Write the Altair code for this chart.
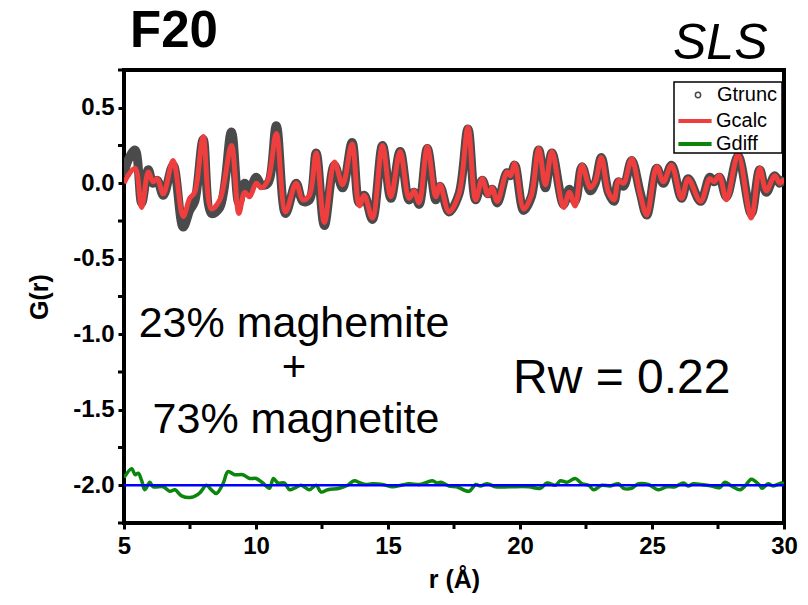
import altair as alt
import pandas as pd

# ---- data ----
r_fit = [5.00, 5.15, 5.42, 5.67, 5.92, 6.10, 6.26, 6.49, 6.86, 7.24, 7.49, 7.68, 8.00, 8.31, 8.63,
         9.07, 9.35, 9.57, 9.76, 10.01, 10.20, 10.45, 10.77, 11.12, 11.52, 11.77, 12.02, 12.28, 12.59,
         12.97, 13.28, 13.64, 13.91, 14.10, 14.41, 14.79, 15.11, 15.46, 15.80, 15.99, 16.18, 16.49,
         16.81, 16.97, 17.31, 17.69, 18.03, 18.32, 18.57, 18.79, 18.94, 19.14, 19.51, 19.64, 19.80,
         20.14, 20.43, 20.71, 20.96, 21.21, 21.65, 21.87, 22.09, 22.35, 22.66, 22.85, 23.08, 23.35,
         23.56, 23.73, 23.92, 24.23, 24.55, 24.80, 25.18, 25.43, 25.74, 26.12, 26.37, 26.84, 27.19,
         27.35, 27.55, 27.82, 28.26, 28.76, 29.08, 29.33, 29.65, 29.84, 30.00]
g_calc = [0.00, 0.05, 0.10, -0.16, 0.075, 0.01, 0.03, -0.07, 0.15, -0.22, -0.10, -0.06, 0.31, -0.17, -0.11,
          0.25, -0.20, -0.06, -0.09, 0.00, -0.03, 0.02, 0.33, -0.19, 0.00, -0.11, -0.08, 0.20, -0.26,
          0.14, -0.01, 0.26, -0.15, -0.08, -0.23, 0.25, -0.09, 0.21, -0.10, -0.05, -0.13, 0.24,
          -0.09, -0.01, -0.19, -0.07, 0.37, -0.11, 0.03, -0.08, -0.03, -0.12, 0.075, 0.05, 0.13,
          -0.17, -0.08, 0.23, -0.01, 0.21, -0.16, -0.06, -0.15, 0.12, -0.03, 0.01, 0.17, -0.06,
          -0.11, 0.02, 0.00, 0.16, -0.07, -0.21, 0.11, 0.01, 0.12, -0.10, 0.03, -0.12, 0.03,
          0.01, 0.05, -0.11, 0.19, -0.23, 0.10, -0.05, 0.05, 0.00, 0.03]
g_trunc = [0.05, 0.15, 0.22, -0.13, 0.09, 0.00, 0.02, -0.08, 0.12, -0.29, -0.18, -0.12, 0.29, -0.20, -0.16,
           0.34, -0.13, 0.00, -0.04, 0.04, -0.01, 0.00, 0.38, -0.20, 0.00, -0.12, -0.11, 0.20, -0.28,
           0.12, -0.03, 0.27, -0.13, -0.08, -0.24, 0.25, -0.10, 0.21, -0.11, -0.06, -0.14, 0.23,
           -0.11, -0.02, -0.19, -0.07, 0.36, -0.11, 0.02, -0.07, -0.04, -0.13, 0.07, 0.05, 0.12,
           -0.18, -0.09, 0.22, -0.03, 0.20, -0.14, -0.04, -0.12, 0.11, -0.05, 0.00, 0.17, -0.06,
           -0.12, 0.01, -0.02, 0.15, -0.06, -0.21, 0.10, 0.00, 0.12, -0.10, 0.03, -0.12, 0.04,
           0.01, 0.04, -0.09, 0.18, -0.20, 0.09, -0.06, 0.05, 0.00, 0.04]
r_diff = [5.00, 5.29, 5.42, 5.54, 5.67, 5.79, 5.98, 6.10, 6.49, 6.74, 6.93, 7.18, 7.56, 7.87, 8.12,
          8.31, 8.50, 8.75, 8.94, 9.19, 9.50, 9.76, 10.01, 10.26, 10.51, 10.66, 10.83, 11.08, 11.27,
          11.50, 11.71, 12.02, 12.28, 12.46, 12.72, 13.16, 13.47, 13.72, 13.95, 14.16, 14.41, 14.80,
          15.17, 15.50, 15.80, 16.20, 16.68, 16.85, 17.00, 17.31, 17.60, 18.07, 18.32, 18.50, 18.76,
          19.07, 19.60, 20.33, 20.77, 21.02, 21.34, 21.53, 21.78, 22.09, 22.35, 22.60, 22.79, 23.10,
          23.40, 23.73, 23.92, 24.23, 24.49, 24.86, 25.24, 25.55, 25.87, 26.19, 26.37, 26.56, 26.88,
          27.25, 27.57, 27.76, 28.01, 28.33, 28.55, 28.76, 29.08, 29.17, 29.40, 29.59, 29.90, 30.00]
g_diff = [-1.95, -1.89, -1.93, -1.92, -1.97, -2.03, -1.98, -2.01, -2.01, -2.04, -2.03, -2.07, -2.08, -2.05, -2.00,
          -2.03, -2.055, -1.99, -1.91, -1.93, -1.93, -1.955, -1.955, -1.985, -2.02, -1.955, -1.985, -1.985, -2.03,
          -2.015, -2.00, -2.03, -2.00, -2.045, -2.03, -2.02, -2.00, -1.97, -1.985, -1.995, -1.99, -1.995,
          -2.01, -2.00, -1.99, -1.995, -1.97, -1.985, -1.98, -2.005, -2.01, -2.04, -1.995, -2.005, -1.99,
          -2.01, -2.01, -2.01, -2.02, -1.985, -2.00, -1.97, -1.98, -1.955, -1.99, -2.00, -2.03, -2.00,
          -2.005, -1.99, -2.02, -2.02, -1.99, -1.995, -2.03, -2.01, -2.01, -1.985, -2.005, -1.99, -1.995,
          -2.005, -2.015, -1.98, -2.005, -2.03, -2.00, -1.96, -2.00, -2.02, -1.99, -2.005, -1.985, -1.99]
baseline_value = [-2.0]
series_colors = {"Gtrunc": "#4a4a4a", "Gcalc": "#ef3e3e", "Gdiff": "#0b850b"}
x_major = [5, 10, 15, 20, 25, 30]
x_minor = [7.5, 12.5, 17.5, 22.5, 27.5]
y_major = [0.5, 0.0, -0.5, -1.0, -1.5, -2.0]
y_minor = [0.75, 0.25, -0.25, -0.75, -1.25, -1.75, -2.25]

FONT = "Liberation Sans"

df_trunc = pd.DataFrame({"r": r_fit, "G": g_trunc, "series": "Gtrunc"})
df_calc = pd.DataFrame({"r": r_fit, "G": g_calc, "series": "Gcalc"})
df_diff = pd.DataFrame({"r": r_diff, "G": g_diff, "series": "Gdiff"})

x_enc = alt.X("r:Q", scale=alt.Scale(domain=[5, 30], nice=False),
              axis=alt.Axis(values=x_major, title="r (Å)", format="d"))
y_enc = alt.Y("G:Q", scale=alt.Scale(domain=[-2.25, 0.75], nice=False, zero=False),
              axis=alt.Axis(values=y_major, title="G(r)", format=".1f", labelOverlap=False))


def series_legend(y, circle=False):
    if circle:
        return alt.Legend(
            title=None, orient="none", legendX=552, legendY=y,
            labelFont=FONT, labelFontSize=20, labelColor="black", labelOffset=9,
            symbolType="circle", symbolSize=28, symbolStrokeWidth=1.5, symbolFillColor="white",
            symbolOffset=12, padding=0)
    return alt.Legend(
        title=None, orient="none", legendX=552, legendY=y,
        labelFont=FONT, labelFontSize=20, labelColor="black", labelOffset=2,
        symbolType="stroke", symbolSize=1100, symbolStrokeWidth=4, padding=0)


def series_line(df, name, width, legend):
    return alt.Chart(df).mark_line(strokeWidth=width, interpolate="catmull-rom", clip=True).encode(
        x=x_enc, y=y_enc,
        color=alt.Color("series:N", scale=alt.Scale(domain=[name], range=[series_colors[name]]),
                        legend=legend))


trunc = series_line(df_trunc, "Gtrunc", 9, series_legend(15, circle=True))
calc = series_line(df_calc, "Gcalc", 5, series_legend(32))
diff = series_line(df_diff, "Gdiff", 3.5, series_legend(55))

blue = alt.Chart(pd.DataFrame({"G": baseline_value})).mark_rule(color="#0000ff", strokeWidth=2.5).encode(
    y="G:Q")
y_minor_ticks = alt.Chart(pd.DataFrame({"G": y_minor})).mark_rule(color="black", strokeWidth=3).encode(
    y="G:Q", x=alt.value(-6), x2=alt.value(0))
x_minor_ticks = alt.Chart(pd.DataFrame({"r": x_minor})).mark_rule(color="black", strokeWidth=3).encode(
    x="r:Q", y=alt.value(453), y2=alt.value(459))
legend_box = alt.Chart(pd.DataFrame({"a": [0]})).mark_rect(
    fill="white", stroke="black", strokeWidth=1.5).encode(
    x=alt.value(550), x2=alt.value(658), y=alt.value(12), y2=alt.value(83))


def label(text, x, y, size, align="left", weight="normal", style="normal", color="black"):
    return alt.Chart(pd.DataFrame({"t": [text]})).mark_text(
        font=FONT, fontSize=size, fontWeight=weight, fontStyle=style, align=align,
        baseline="alphabetic", color=color
    ).encode(x=alt.value(x), y=alt.value(y), text="t:N")


texts = [
    label("F20", 6, -23, 51, weight="bold"),
    label("SLS", 549, -11, 50, style="italic"),
    label("23% maghemite", 170, 267, 43, align="center"),
    label("+", 170, 311, 42, align="center"),
    label("73% magnetite", 172, 363, 43, align="center"),
    label("Rw = 0.22", 389, 323, 48),
]

chart = alt.layer(trunc, calc, diff, blue, y_minor_ticks, x_minor_ticks, legend_box, *texts).resolve_scale(
    color="independent"
).properties(
    width=660, height=453,
    autosize=alt.AutoSizeParams(type="none"),
    padding={"left": 116, "top": 62, "right": 16, "bottom": 74},
).configure(
    locale={"number": {"decimal": ".", "thousands": ",", "grouping": [3],
                       "currency": ["$", ""], "minus": "-"}}
).configure_view(
    stroke="black", strokeWidth=4
).configure_axis(
    grid=False, domain=False, ticks=True, tickColor="black", tickWidth=3, tickSize=6,
    labelFont=FONT, labelFontSize=24, labelFontWeight="bold", labelColor="black",
    titleFont=FONT, titleFontSize=25, titleFontWeight="bold", titleColor="black",
).configure_axisX(
    labelPadding=5, titlePadding=9, labelFlush=False
).configure_axisY(
    labelPadding=4, titlePadding=20
)

chart.save("out.html", embed_options={"renderer": "svg", "actions": False})
